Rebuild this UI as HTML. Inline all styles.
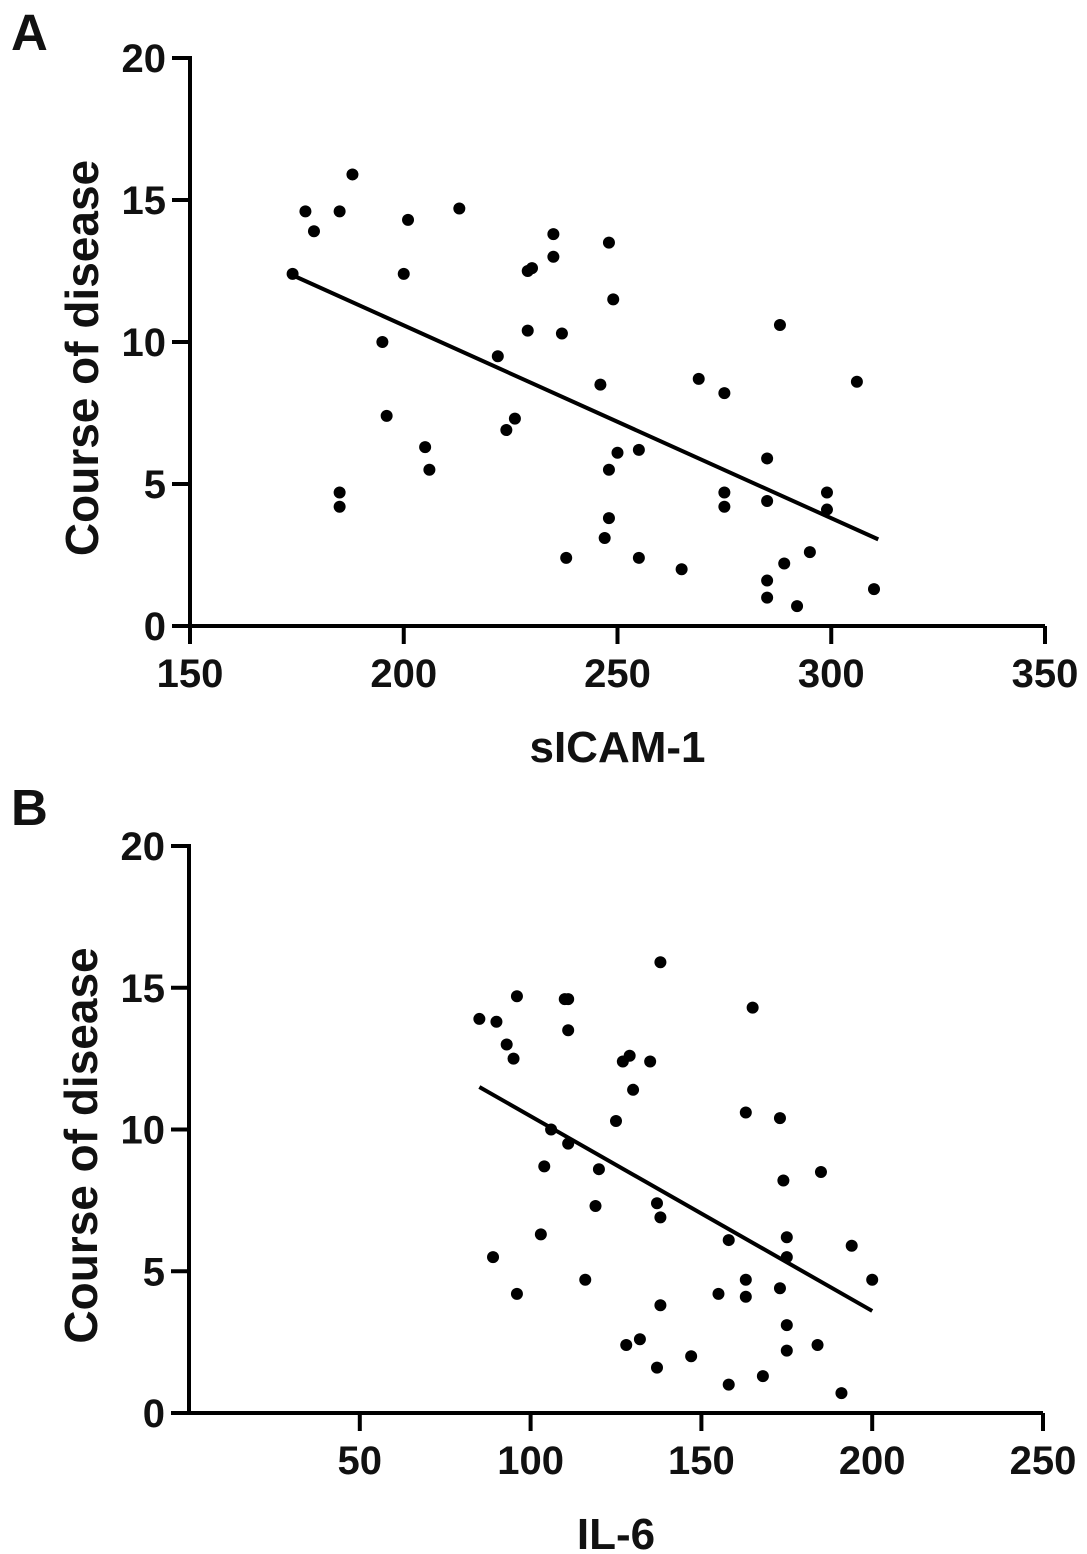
<!DOCTYPE html>
<html><head><meta charset="utf-8"><style>
html,body{margin:0;padding:0;background:#fff;}
svg{display:block;font-family:"Liberation Sans",Arial,sans-serif;font-weight:bold;}
</style></head><body>
<svg id="chart" width="1087" height="1554" viewBox="0 0 1087 1554" xmlns="http://www.w3.org/2000/svg"></svg>
<script>
const xA = [174,177,179,185,188,185,185,195,196,200,201,205,206,213,222,224,226,229,230,229,235,235,237,238,246,247,248,248,248,249,250,255,255,265,269,275,275,275,285,285,285,285,289,288,292,295,299,299,306,310];
const yA = [12.4,14.6,13.9,14.6,15.9,4.7,4.2,10,7.4,12.4,14.3,6.3,5.5,14.7,9.5,6.9,7.3,12.5,12.6,10.4,13.8,13.0,10.3,2.4,8.5,3.1,13.5,5.5,3.8,11.5,6.1,2.4,6.2,2.0,8.7,8.2,4.7,4.2,5.9,4.4,1.6,1.0,2.2,10.6,0.7,2.6,4.7,4.1,8.6,1.3];
const fitA = [[174,12.35],[311,3.05]];
const xB = [85,90,93,95,96,89,96,104,103,106,110,111,111,111,116,120,119,125,127,129,130,128,132,135,137,138,138,137,138,147,155,158,158,163,163,163,165,168,173,173,174,175,175,175,175,184,185,191,194,200];
const yB = [13.9,13.8,13.0,12.5,14.7,5.5,4.2,8.7,6.3,10.0,14.6,14.6,13.5,9.5,4.7,8.6,7.3,10.3,12.4,12.6,11.4,2.4,2.6,12.4,7.4,6.9,3.8,1.6,15.9,2.0,4.2,6.1,1.0,10.6,4.7,4.1,14.3,1.3,10.4,4.4,8.2,6.2,5.5,3.1,2.2,2.4,8.5,0.7,5.9,4.7];
const fitB = [[85,11.5],[200,3.6]];
const yTicks = [0,5,10,15,20];
const xTicksA = [150,200,250,300,350];
const xTicksB = [50,100,150,200,250];

const svg = document.getElementById('chart');
const NS = 'http://www.w3.org/2000/svg';
function mk(tag, attrs, parent){const e=document.createElementNS(NS,tag);for(const k in attrs)e.setAttribute(k,attrs[k]);(parent||svg).appendChild(e);return e;}

function panel(cfg){
  const g = mk('g',{});
  
  
  const sx = v => cfg.x0 + (v - cfg.xmin) / (cfg.xmax - cfg.xmin) * (cfg.x1 - cfg.x0);
  const sy = v => cfg.yb - v / 20 * (cfg.yb - cfg.yt);
  const ya = mk('line',{x1:cfg.x0,y1:cfg.yt-2,x2:cfg.x0,y2:cfg.yb+2,stroke:'#000','stroke-width':4},g);
  
  
  const xa = mk('line',{x1:cfg.x0-2,y1:cfg.yb,x2:cfg.x1,y2:cfg.yb,stroke:'#000','stroke-width':4},g);
  
  
  yTicks.forEach(t=>{
    const y=sy(t);
    const tl=mk('line',{x1:cfg.x0-18,y1:y,x2:cfg.x0,y2:y,stroke:'#000','stroke-width':4},g);
    
    
    const tx=mk('text',{x:cfg.x0-24,y:y+14,'text-anchor':'end','font-size':40,fill:'#111'},g);
    tx.textContent=t;
    
    
  });
  cfg.xticks.forEach(t=>{
    const x=sx(t);
    const tl=mk('line',{x1:x,y1:cfg.yb,x2:x,y2:cfg.yb+18,stroke:'#000','stroke-width':4},g);
    
    
    const tx=mk('text',{x:x,y:cfg.yb+61,'text-anchor':'middle','font-size':40,fill:'#111'},g);
    tx.textContent=t;
    
    
  });
  const yt=mk('text',{x:0,y:0,'text-anchor':'middle','font-size':46,fill:'#111',transform:`translate(${cfg.x0-92},${(cfg.yt+cfg.yb)/2+16}) rotate(-90)`},g);
  yt.textContent='Course of disease';
  
  
  const xt=mk('text',{x:(cfg.x0+cfg.x1)/2,y:cfg.yb+136,'text-anchor':'middle','font-size':44,fill:'#111'},g);
  xt.textContent=cfg.xlabel;
  
  
  const pl=mk('text',{x:11,y:cfg.labelY,'font-size':51,fill:'#111'},g);
  pl.textContent=cfg.letter;
  
  
  cfg.xs.forEach((v,i)=>{
    const c=mk('circle',{cx:sx(v),cy:sy(cfg.ys[i]),r:6,fill:'#000'},g);
    
    
  });
  const f=cfg.fit;
  const ln=mk('line',{x1:sx(f[0][0]),y1:sy(f[0][1]),x2:sx(f[1][0]),y2:sy(f[1][1]),stroke:'#000','stroke-width':4},g);
  
  
}
panel({name:'panel-a-sicam1',x0:190,x1:1045,xmin:150,xmax:350,yt:58,yb:626,xticks:xTicksA,xlabel:'sICAM-1',letter:'A',labelY:50,xs:xA,ys:yA,fit:fitA});
panel({name:'panel-b-il6',x0:189,x1:1043,xmin:0,xmax:250,yt:846,yb:1413,xticks:xTicksB,xlabel:'IL-6',letter:'B',labelY:825,xs:xB,ys:yB,fit:fitB});
</script>
</body></html>
